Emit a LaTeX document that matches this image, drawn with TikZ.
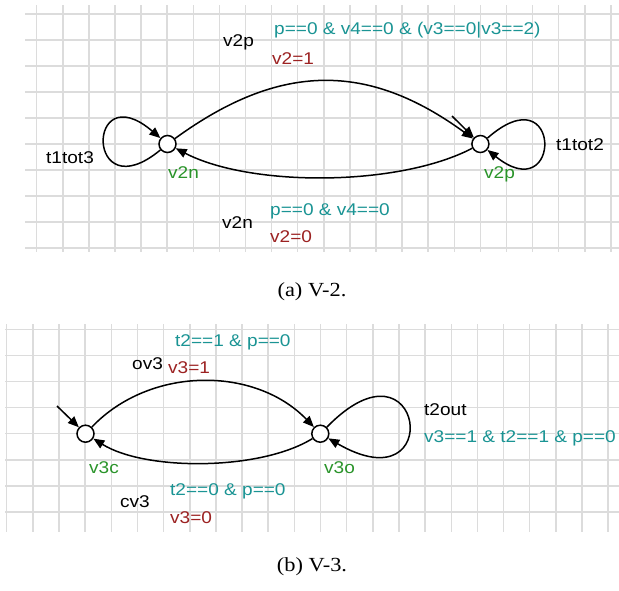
\documentclass[tikz,border=0pt]{standalone}
\usepackage{fontspec}
\setmainfont{Liberation Serif}
\newfontfamily\df[FakeStretch=1.12]{Liberation Sans}
\newfontfamily\capf[FakeStretch=1.12]{Liberation Serif}
\usetikzlibrary{arrows.meta}
\definecolor{guardc}{HTML}{1A9494}
\definecolor{updc}{HTML}{9C2222}
\definecolor{locc}{HTML}{2A942A}
\definecolor{gridc}{HTML}{DCDCDC}
\begin{document}
\begin{tikzpicture}[x=1pt,y=-1pt,
  font=\df\fontsize{17}{19}\selectfont,
  gridline/.style={gridc,line width=1.5pt},
  loc/.style={circle,draw,line width=1.5pt,minimum size=17pt,inner sep=0pt,fill=white},
  edge/.style={line width=1.5pt,-{Triangle[length=11pt,width=9pt]}},
  lbl/.style={anchor=base west,inner sep=0pt},
  grd/.style={lbl,text=guardc},
  upd/.style={lbl,text=updc},
  lname/.style={lbl,text=locc},
  capt/.style={font=\capf\fontsize{20}{23}\selectfont,inner sep=0pt}]
\useasboundingbox[fill=white] (0,0) rectangle (619,590);
% grids
\foreach \k in {0,...,9} \draw[gridline] (25,{14+26*\k}) -- (619,{14+26*\k});
\foreach \k in {0,...,22} \draw[gridline] ({36.7+26.1*\k},5) -- ({36.7+26.1*\k},252);
\foreach \k in {0,...,7} \draw[gridline] (5,{329.3+26.1*\k}) -- (619,{329.3+26.1*\k});
\foreach \k in {0,...,23} \draw[gridline] ({6.7+26.15*\k},324) -- ({6.7+26.15*\k},532);
% panel (a)
\node[loc] (v2n) at (167.5,144) {};
\node[loc] (v2p) at (480.4,144) {};
\coordinate (i2) at (452,116);
\draw[edge] (v2n) .. controls (280,62) and (368,62) .. (v2p);
\draw[edge] (v2p) .. controls (398,187) and (250,187) .. (v2n);
\draw[edge] (v2n.220) .. controls +(-75,62) and +(-75,-64) .. (v2n.140);
\draw[edge] (v2p.40) .. controls +(75,-66) and +(75,60) .. (v2p.-40);
\draw[edge] (i2) -- (v2p);
\node[lbl] (e1n) at (223,46) {v2p};
\node[grd] (e1g) at (274,34) {p==0 \& v4==0 \& (v3==0|v3==2)};
\node[upd] (e1u) at (272,64) {v2=1};
\node[lbl] (e2n) at (222,228) {v2n};
\node[grd] (e2g) at (270,215) {p==0 \& v4==0};
\node[upd] (e2u) at (270,242) {v2=0};
\node[lbl] (l1) at (46,163) {t1tot3};
\node[lbl] (l2) at (556,150) {t1tot2};
\node[lname] (n1) at (168,178) {v2n};
\node[lname] (n2) at (484,178) {v2p};
\node[capt] (ca) at (312,292) {(a) V-2.};
% panel (b)
\node[loc] (v3c) at (85.5,433.7) {};
\node[loc] (v3o) at (320.3,433.7) {};
\coordinate (i3) at (57,406);
\draw[edge] (v3c) .. controls (150,366) and (255,366) .. (v3o);
\draw[edge] (v3o) .. controls (260,471) and (145,471) .. (v3c);
\draw[edge] (v3o.45) .. controls +(97,-100) and +(119,69) .. (v3o.-30);
\draw[edge] (i3) -- (v3c);
\node[grd] (f1g) at (175,346.5) {t2==1 \& p==0};
\node[lbl] (f1n) at (132,369) {ov3};
\node[upd] (f1u) at (168,373) {v3=1};
\node[lbl] (f3n) at (424,415) {t2out};
\node[grd] (f3g) at (424,442) {v3==1 \& t2==1 \& p==0};
\node[lname] (n3) at (89,473) {v3c};
\node[lname] (n4) at (324,473) {v3o};
\node[lbl] (f2n) at (120,507) {cv3};
\node[grd] (f2g) at (170,495) {t2==0 \& p==0};
\node[upd] (f2u) at (170,523) {v3=0};
\node[capt] (cb) at (312,567) {(b) V-3.};
\end{tikzpicture}
\end{document}
